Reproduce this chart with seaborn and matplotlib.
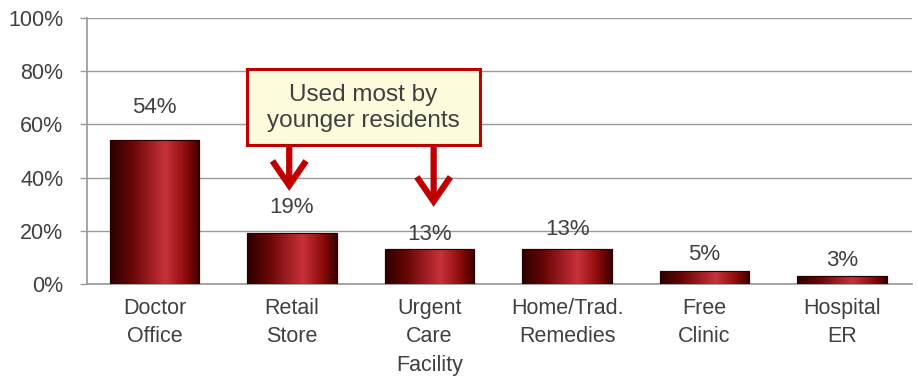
import numpy as np
import pandas as pd
import matplotlib
matplotlib.use("Agg")
import matplotlib.pyplot as plt
import seaborn as sns
from matplotlib.colors import LinearSegmentedColormap
from matplotlib.ticker import PercentFormatter, MultipleLocator
from matplotlib.patches import FancyArrowPatch, Rectangle

# Where residents go for care
categories = ["Doctor\nOffice", "Retail\nStore", "Urgent\nCare\nFacility",
              "Home/Trad.\nRemedies", "Free\nClinic", "Hospital\nER"]
shares = [0.54, 0.19, 0.13, 0.13, 0.05, 0.03]
value_labels = ["54%", "19%", "13%", "13%", "5%", "3%"]
callout_text = "Used most by\nyounger residents"

df = pd.DataFrame({"place": categories, "share": shares})

sns.set_theme(style="white")
plt.rcParams["font.family"] = ["Liberation Sans", "DejaVu Sans"]
TEXT = "#404040"
FS = 15.5

fig = plt.figure(figsize=(9.18, 3.79), dpi=100)
ax = fig.add_axes([0.0948, 0.2507, 0.899, 0.7018])

sns.barplot(data=df, x="place", y="share", ax=ax, width=0.65,
            color="#8b0000", edgecolor="#2a0000", linewidth=0.8, zorder=3)

ax.set_ylim(0, 1.0)
ax.set_xlim(-0.49, 5.51)
ax.yaxis.set_major_locator(MultipleLocator(0.2))
ax.yaxis.set_major_formatter(PercentFormatter(1.0, decimals=0))
ax.grid(axis="y", color="#9a9a9a", linewidth=1.0, zorder=0)
ax.set_xlabel("")
ax.set_ylabel("")
for s in ["top", "right"]:
    ax.spines[s].set_visible(False)
ax.spines["left"].set_color("#9a9a9a")
ax.spines["bottom"].set_color("#9a9a9a")
ax.tick_params(axis="y", left=True, length=5, width=1, color="#9a9a9a",
               labelsize=FS, labelcolor=TEXT, pad=12)
ax.tick_params(axis="x", bottom=False, labelsize=FS, labelcolor=TEXT, pad=4)
for lbl in ax.get_xticklabels():
    lbl.set_linespacing(1.47)

# Horizontal shading across each bar: dark edges, bright red toward the right of centre
shade = LinearSegmentedColormap.from_list(
    "barshade", [(0.0, "#2b0000"), (0.25, "#6a0606"), (0.62, "#c8323a"),
                 (0.85, "#8a0a0a"), (1.0, "#3a0000")])
grad = np.linspace(0, 1, 256).reshape(1, -1)
for bar in ax.patches:
    x0, y0 = bar.get_x(), bar.get_y()
    w, h = bar.get_width(), bar.get_height()
    im = ax.imshow(grad, cmap=shade, aspect="auto",
                   extent=[x0, x0 + w, y0, y0 + h], zorder=3.5,
                   interpolation="bicubic")
    im.set_clip_path(bar)
    outline = Rectangle((x0, y0), w, h, fill=False, edgecolor="#2a0000",
                        linewidth=0.8, zorder=4)
    ax.add_patch(outline)

# Value labels above the bars
label_offsets = [24, 19, 11, 14, 12, 11]
for i, (v, t) in enumerate(zip(shares, value_labels)):
    ax.annotate(t, (i, v), xytext=(0, label_offsets[i]), textcoords="offset points",
                ha="center", va="center", fontsize=16, color=TEXT, zorder=6)

# Callout box with arrows to the two categories
ax.add_patch(Rectangle((0.67, 0.523), 1.70, 0.285, facecolor="#fcfbdc",
                       edgecolor="#c00000", linewidth=2.2, zorder=7))
ax.text(1.52, 0.663, callout_text, ha="center", va="center", fontsize=17.5,
        color=TEXT, linespacing=1.25, zorder=8)
for xa, ytip in [(0.98, 0.35), (2.03, 0.29)]:
    arr = FancyArrowPatch((xa, 0.52), (xa, ytip),
                          arrowstyle="->,head_length=0.8,head_width=0.55",
                          color="#c00000", linewidth=4.5, zorder=6,
                          shrinkA=0, shrinkB=0, mutation_scale=22,
                          joinstyle="miter", capstyle="butt")
    ax.add_patch(arr)

fig.savefig("out.png", dpi=100)
